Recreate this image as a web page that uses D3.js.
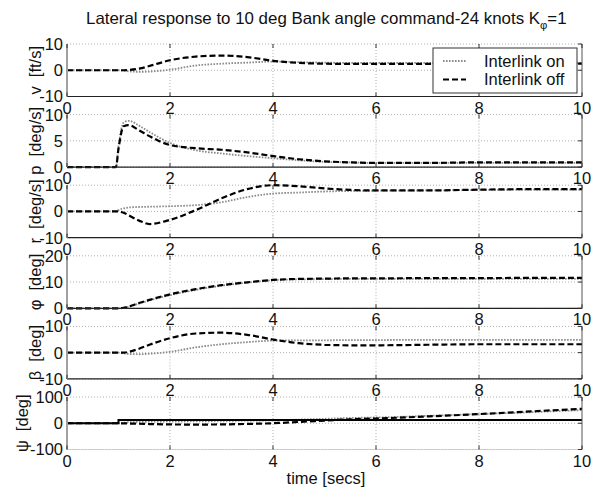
<!DOCTYPE html>
<html>
<head>
<meta charset="utf-8">
<script src="https://cdn.jsdelivr.net/npm/d3@7"></script>
<style>
  html, body { margin: 0; padding: 0; background: #fff; }
  svg { display: block; font-family: "Liberation Sans", Arial, Helvetica, sans-serif; }
</style>
</head>
<body>
<svg id="chart" width="597" height="490"></svg>
<script>
// Sample times (s) shared by the response traces
const time = [0, 0.95, 1.0, 1.1, 1.2, 1.4, 1.6, 2.0, 2.5, 3.0, 3.5, 4.0, 4.5, 5.0, 5.5, 6.0, 7.0, 8.0, 9.0, 10.0];

// Sideslip velocity v [ft/s]
const vOn  = [0, 0, 0, -0.2, -0.4, -0.6, -0.5, 0.2, 1.8, 2.5, 2.9, 3.3, 3.1, 2.9, 2.8, 2.8, 2.8, 2.8, 2.8, 2.8];
const vOff = [0, 0, 0, 0, 0.1, 0.6, 1.6, 3.8, 5.2, 5.6, 5.0, 3.6, 2.8, 2.5, 2.4, 2.4, 2.4, 2.5, 2.5, 2.5];
// Roll rate p [deg/s]
const pOn  = [0, 0, 4.0, 8.5, 8.8, 7.9, 6.7, 4.6, 3.2, 2.6, 2.1, 1.7, 1.3, 1.0, 0.9, 0.8, 0.8, 0.8, 0.8, 0.8];
const pOff = [0, 0, 3.5, 7.8, 8.0, 7.0, 5.9, 4.2, 3.6, 3.3, 2.8, 2.1, 1.5, 1.1, 0.9, 0.8, 0.8, 0.9, 0.9, 0.9];
// Yaw rate r [deg/s]
const rOn  = [0, 0, 0.5, 1.2, 1.5, 1.7, 1.8, 2.0, 2.4, 3.5, 5.5, 6.8, 7.2, 7.6, 7.8, 7.9, 8.0, 8.2, 8.3, 8.3];
const rOff = [0, 0, 0, -0.5, -1.5, -3.5, -4.8, -3.2, 0.5, 5.0, 8.5, 10.0, 9.6, 8.8, 8.2, 8.0, 8.0, 8.3, 8.5, 8.5];
// Bank angle phi [deg]
const phiOn  = [0, 0, 0, 0.2, 0.6, 1.8, 3.0, 5.0, 7.0, 8.6, 9.8, 10.7, 11.0, 11.1, 11.2, 11.2, 11.2, 11.2, 11.2, 11.2];
const phiOff = [0, 0, 0, 0.2, 0.7, 2.0, 3.2, 5.3, 7.3, 8.8, 9.9, 10.8, 11.2, 11.3, 11.4, 11.4, 11.5, 11.5, 11.6, 11.6];
// Sideslip angle beta [deg]
const betaOn  = [0, 0, 0, -0.3, -0.5, -0.6, -0.4, 0.3, 2.0, 3.2, 4.0, 4.6, 4.7, 4.7, 4.8, 4.8, 4.9, 4.9, 4.9, 4.9];
const betaOff = [0, 0, 0, 0, 0.3, 1.5, 3.0, 5.5, 7.3, 7.6, 6.8, 5.0, 3.6, 3.0, 2.8, 2.8, 3.0, 3.2, 3.2, 3.2];
// Heading psi [deg]
const psiOn  = [0, 0, 0, 2, 4, 5, 6, 7, 8, 9, 10, 11, 14, 17, 20, 22, 28, 35, 42, 50];
const psiOff = [0, 0, 0, -0.5, -1, -2, -3, -4.5, -5, -4.5, -2.5, 0, 5, 10, 15, 18, 26, 35, 45, 55];
// Heading command (step)
const cmdTime = [0, 1.0, 10.0];
const psiCmd  = [0, 12, 12];

// Axis ticks and labels
const xTicks = [0, 2, 4, 6, 8, 10];
const panelLabels = ["v  [ft/s]", "p  [deg/s]", "r  [deg/s]", "\u03c6  [deg]", "\u03b2  [deg]", "\u03c8  [deg]"];
const panelDomains = [[-10, 10], [0, 10], [-10, 10], [0, 20], [-10, 10], [-100, 100]];
const panelTicks = [[-10, 0, 10], [0, 5, 10], [-10, 0, 10], [0, 10, 20], [-10, 0, 10], [-100, 0, 100]];
const seriesOn  = [vOn, pOn, rOn, phiOn, betaOn, psiOn];
const seriesOff = [vOff, pOff, rOff, phiOff, betaOff, psiOff];
const legendNames = ["Interlink on", "Interlink off"];

const svg = d3.select("#chart");
const left = 67, right = 582;
const top0 = 44, step = 70.6, ph = 52.5;
const fs = 16.5;

const x = d3.scaleLinear().domain([0, 10]).range([left, right]);

// Title with subscript phi, spanning x = 86 .. 567
const title = svg.append("text")
  .attr("x", 0).attr("y", 24)
  .attr("font-size", fs).attr("fill", "#111");
title.append("tspan").text("Lateral response to 10 deg Bank angle command-24 knots K");
const sub = title.append("tspan").attr("dy", 5).attr("font-size", 11).text("\u03c6");
title.append("tspan").attr("dy", -5).text("=1");
{
  const titleLeft = 86, titleRight = 567;
  let bb = title.node().getBBox();
  const k = (titleRight - titleLeft) / bb.width;
  title.attr("font-size", fs * k);
  sub.attr("font-size", 11 * k);
  bb = title.node().getBBox();
  title.attr("x", titleLeft - bb.x);
}

const dotStyle = { stroke: "#8a8a8a", width: 1.8, dash: "1.6,1.4" };
const dashStyle = { stroke: "#000", width: 2.2, dash: "6,3" };

panelDomains.forEach((dom, i) => {
  const y0 = top0 + i * step, y1 = y0 + ph;
  const y = d3.scaleLinear().domain(dom).range([y1, y0]);
  const g = svg.append("g");
  const last = i === panelDomains.length - 1;

  // grid
  g.selectAll(".gx").data(xTicks.slice(1, -1)).join("line")
    .attr("x1", d => x(d)).attr("x2", d => x(d)).attr("y1", y0).attr("y2", y1)
    .attr("stroke", "#9a9a9a").attr("stroke-width", 0.8).attr("stroke-dasharray", "1,2");
  g.selectAll(".gy").data(panelTicks[i]).join("line")
    .attr("x1", left).attr("x2", right).attr("y1", d => y(d)).attr("y2", d => y(d))
    .attr("stroke", "#9a9a9a").attr("stroke-width", 0.8).attr("stroke-dasharray", "1,2");

  // traces
  const line = d3.line().x((d, k) => x(time[k])).y(d => y(d)).curve(d3.curveMonotoneX);
  g.append("path").attr("d", line(seriesOn[i])).attr("fill", "none")
    .attr("stroke", dotStyle.stroke).attr("stroke-width", dotStyle.width).attr("stroke-dasharray", dotStyle.dash);
  g.append("path").attr("d", line(seriesOff[i])).attr("fill", "none")
    .attr("stroke", dashStyle.stroke).attr("stroke-width", dashStyle.width).attr("stroke-dasharray", dashStyle.dash);

  if (last) {
    const cmdLine = d3.line().x((d, k) => x(cmdTime[k])).y(d => y(d)).curve(d3.curveStepAfter);
    g.append("path").attr("d", cmdLine(psiCmd)).attr("fill", "none")
      .attr("stroke", "#000").attr("stroke-width", 2);
  }

  // frame
  g.append("line").attr("x1", left).attr("x2", right).attr("y1", y1).attr("y2", y1)
    .attr("stroke", last ? "#c8c8c8" : "#222").attr("stroke-width", last ? 0.8 : 1.2);
  g.append("line").attr("x1", left).attr("x2", left).attr("y1", y0).attr("y2", y1)
    .attr("stroke", "#a0a0a0").attr("stroke-width", 2);
  g.append("line").attr("x1", right).attr("x2", right).attr("y1", y0).attr("y2", y1)
    .attr("stroke", "#555").attr("stroke-width", 1);

  // inner ticks
  g.selectAll(".ty").data(panelTicks[i]).join("line")
    .attr("x1", right - 4).attr("x2", right).attr("y1", d => y(d)).attr("y2", d => y(d))
    .attr("stroke", "#333").attr("stroke-width", 1);
  g.selectAll(".tx").data(xTicks).join("line")
    .attr("x1", d => x(d)).attr("x2", d => x(d)).attr("y1", y1).attr("y2", y1 - 4)
    .attr("stroke", "#333").attr("stroke-width", 1);
  g.selectAll(".txt").data(xTicks).join("line")
    .attr("x1", d => x(d)).attr("x2", d => x(d)).attr("y1", y0).attr("y2", y0 + 4)
    .attr("stroke", "#333").attr("stroke-width", 1);

  // y tick labels
  g.selectAll(".yl").data(panelTicks[i]).join("text")
    .attr("x", left - 4).attr("y", d => y(d)).attr("dy", "0.36em")
    .attr("text-anchor", "end").attr("font-size", fs).attr("fill", "#111")
    .text(d => d);

  // x tick labels
  g.selectAll(".xl").data(xTicks).join("text")
    .attr("x", d => x(d)).attr("y", y1 + 17)
    .attr("text-anchor", "middle").attr("font-size", fs).attr("fill", "#111")
    .text(d => d);

  // y axis label
  g.append("text")
    .attr("transform", `translate(${last ? 28 : 41},${(y0 + y1) / 2}) rotate(-90)`)
    .attr("text-anchor", "middle").attr("font-size", fs).attr("fill", "#111")
    .style("white-space", "pre")
    .text(panelLabels[i]);
});

// x axis label
svg.append("text").attr("x", 326).attr("y", 484)
  .attr("text-anchor", "middle").attr("font-size", fs).attr("fill", "#111")
  .text("time [secs]");

// legend
const lg = svg.append("g");
lg.append("rect").attr("x", 433).attr("y", 48).attr("width", 144).attr("height", 45)
  .attr("fill", "#fff").attr("stroke", "#333").attr("stroke-width", 1);
[dotStyle, dashStyle].forEach((s, k) => {
  const yy = 61 + k * 18.5;
  lg.append("line").attr("x1", 443).attr("x2", 466).attr("y1", yy).attr("y2", yy)
    .attr("stroke", s.stroke).attr("stroke-width", s.width).attr("stroke-dasharray", s.dash);
  lg.append("text").attr("x", 484).attr("y", yy).attr("dy", "0.36em")
    .attr("font-size", fs).attr("fill", "#111").text(legendNames[k]);
});
</script>
</body>
</html>
